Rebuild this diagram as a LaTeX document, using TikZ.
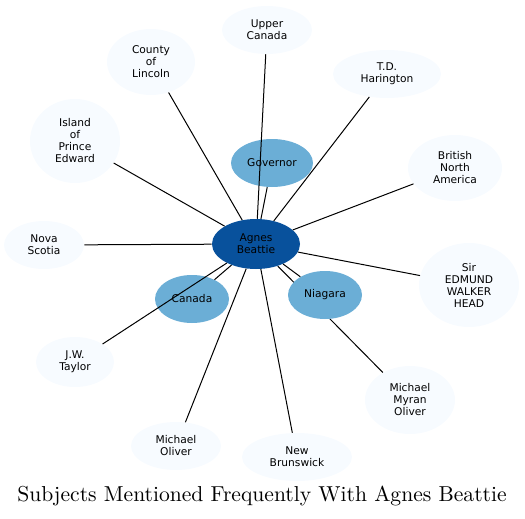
\documentclass[tikz,border=0pt]{standalone}
\usepackage{fontspec}
\usepackage{xcolor}
\usepackage{tikz}
\usetikzlibrary{shapes.geometric,backgrounds}
\newfontfamily\nodefont{DejaVu Sans}
\newfontfamily\titlefont{lmroman10-regular.otf}
\definecolor{leafblue}{HTML}{F7FBFF}
\definecolor{midblue}{HTML}{6BAED6}
\definecolor{darkblue}{HTML}{08519C}

\begin{document}
\begin{tikzpicture}[
    x=0.75pt, y=-0.75pt,
    subject/.style={ellipse, inner sep=0pt, align=center, font=\nodefont\fontsize{8}{9}\selectfont},
    leaf/.style={subject, fill=leafblue},
    hub/.style={subject, fill=midblue},
    link/.style={line width=0.75pt}
]
\useasboundingbox (0,0) rectangle (525,518);

% Central subject
\node[subject, fill=darkblue, minimum width=66pt, minimum height=37.5pt] (agnes) at (256,244) {Agnes\\Beattie};

% Inner subjects
\node[hub, minimum width=61.5pt, minimum height=36pt] (governor) at (272,163) {Governor};
\node[hub, minimum width=55.5pt, minimum height=36pt] (canada) at (192,299) {Canada};
\node[hub, minimum width=55.5pt, minimum height=36pt] (niagara) at (325,295) {Niagara};

% Outer subjects
\node[leaf, minimum width=67.5pt, minimum height=36pt] (upper) at (267,30) {Upper\\Canada};
\node[leaf, minimum width=66pt, minimum height=49.5pt] (lincoln) at (151,62) {County\\of\\Lincoln};
\node[leaf, minimum width=81pt, minimum height=36pt] (harington) at (387,74) {T.D.\\Harington};
\node[leaf, minimum width=67.5pt, minimum height=63pt] (island) at (75,141) {Island\\of\\Prince\\Edward};
\node[leaf, minimum width=70.5pt, minimum height=49.5pt] (bna) at (455,168) {British\\North\\America};
\node[leaf, minimum width=60pt, minimum height=36pt] (nova) at (44,245) {Nova\\Scotia};
\node[leaf, minimum width=75pt, minimum height=63pt] (head) at (469,285) {Sir\\EDMUND\\WALKER\\HEAD};
\node[leaf, minimum width=58.5pt, minimum height=37.5pt] (taylor) at (75,362) {J.W.\\Taylor};
\node[leaf, minimum width=67.5pt, minimum height=36pt] (oliver) at (176,446) {Michael\\Oliver};
\node[leaf, minimum width=82.5pt, minimum height=36pt] (brunswick) at (297,457) {New\\Brunswick};
\node[leaf, minimum width=67.5pt, minimum height=51pt] (myran) at (410,400) {Michael\\Myran\\Oliver};

% Links
\begin{scope}[on background layer]
\draw[link] (agnes) -- (myran);
\end{scope}
\foreach \other in {governor,canada,niagara,upper,lincoln,harington,island,bna,nova,head,taylor,oliver,brunswick}
    \draw[link] (agnes) -- (\other);

% Title
\node[font=\titlefont\fontsize{16.2}{19}\selectfont] (title) at (262,496) {Subjects Mentioned Frequently With Agnes Beattie};

\end{tikzpicture}
\end{document}
